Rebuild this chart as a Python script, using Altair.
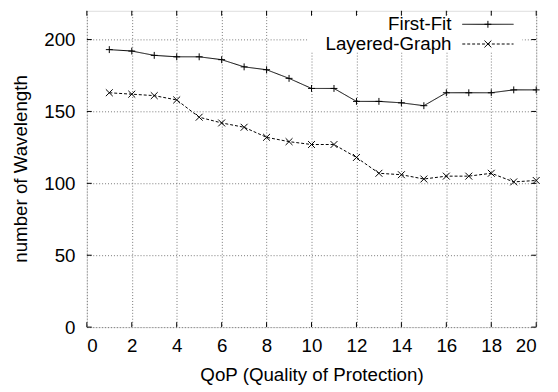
import altair as alt
import pandas as pd

qop = list(range(1, 21))
first_fit = [193, 192, 189, 188, 188, 186, 181, 179, 173, 166, 166, 157, 157, 156, 154, 163, 163, 163, 165, 165]
layered = [163, 162, 161, 158, 146, 142, 139, 132, 129, 127, 127, 118, 107, 106, 103, 105, 105, 107, 101, 102]
series_names = ["First-Fit", "Layered-Graph"]
x_ticks = list(range(0, 21, 2))
y_ticks = [0, 50, 100, 150, 200]

W, H = 456, 321
FONT = "Liberation Sans"
FS = 19

df = pd.DataFrame({
    "qop": qop * 2,
    "val": first_fit + layered,
    "series": [series_names[0]] * len(qop) + [series_names[1]] * len(qop),
})

xs = alt.Scale(domain=[0, 20], nice=False, zero=False)
ys = alt.Scale(domain=[0, 220], nice=False, zero=False)

plus = "M-1,0L1,0M0,-1L0,1"
cross = "M-1,-1L1,1M-1,1L1,-1"

base = alt.Chart(df)

common = dict(grid=True, gridDash=[1, 2], gridColor="#777", gridWidth=1, domain=False, ticks=False,
              labelFont=FONT, labelFontSize=FS, labelColor="black",
              titleFont=FONT, titleFontSize=FS, titleColor="black", titleFontWeight="normal")
xaxis = alt.Axis(values=x_ticks, labelPadding=10, title="QoP (Quality of Protection)",
                 titleX=W / 2, titleY=48, titleBaseline="middle", **common)
yaxis = alt.Axis(values=y_ticks, labelPadding=12, title="number of Wavelength",
                 titleX=-67, titleY=160, titleAngle=-90, titleBaseline="middle", titleAlign="center", **common)

# white legend box that hides gridlines
box = alt.Chart(pd.DataFrame({"k": [0]})).mark_rect(color="white").encode(
    x=alt.value(224), x2=alt.value(442), y=alt.value(4), y2=alt.value(42)
)

dash_scale = alt.Scale(domain=series_names, range=[[1, 0], [3, 2]])
shape_scale = alt.Scale(domain=series_names, range=[plus, cross])

lines = base.mark_line(color="black", strokeWidth=1).encode(
    x=alt.X("qop:Q", scale=xs, axis=xaxis),
    y=alt.Y("val:Q", scale=ys, axis=yaxis),
    strokeDash=alt.StrokeDash("series:N", scale=dash_scale, legend=None),
    detail="series:N",
)

pts = base.mark_point(filled=False, color="black", strokeWidth=1, size=49, opacity=1).encode(
    x=alt.X("qop:Q", scale=xs),
    y=alt.Y("val:Q", scale=ys),
    shape=alt.Shape("series:N", scale=shape_scale, legend=None),
)

# inner ticks (gnuplot style)
xt = pd.DataFrame({"t": x_ticks})
yt = pd.DataFrame({"t": y_ticks})
tick_bottom = alt.Chart(xt).mark_rule(color="black").encode(
    x=alt.X("t:Q", scale=xs), y=alt.value(H), y2=alt.value(H - 5))
tick_top = alt.Chart(xt).mark_rule(color="black").encode(
    x=alt.X("t:Q", scale=xs), y=alt.value(0), y2=alt.value(5))
tick_left = alt.Chart(yt).mark_rule(color="black").encode(
    y=alt.Y("t:Q", scale=ys), x=alt.value(0), x2=alt.value(5))
tick_right = alt.Chart(yt).mark_rule(color="black").encode(
    y=alt.Y("t:Q", scale=ys), x=alt.value(W), x2=alt.value(W - 5))

# legend
leg = pd.DataFrame({"series": series_names, "row": [0, 1]})
legbase = alt.Chart(leg).transform_calculate(ly="13.7 + 20*datum.row")
leg_text = legbase.mark_text(align="right", baseline="middle", font=FONT, fontSize=FS, color="black").encode(
    x=alt.value(370), y=alt.Y("ly:Q", scale=None), text="series:N")
leg_line = legbase.mark_rule(color="black", strokeWidth=1).encode(
    x=alt.value(381), x2=alt.value(433), y=alt.Y("ly:Q", scale=None),
    strokeDash=alt.StrokeDash("series:N", scale=dash_scale, legend=None))
leg_pt = legbase.mark_point(filled=False, color="black", strokeWidth=1, size=49, opacity=1).encode(
    x=alt.value(407), y=alt.Y("ly:Q", scale=None),
    shape=alt.Shape("series:N", scale=shape_scale, legend=None))

chart = alt.layer(
    lines, box, pts, tick_bottom, tick_top, tick_left, tick_right, leg_text, leg_line, leg_pt
).properties(
    width=W, height=H,
    autosize=alt.AutoSizeParams(type="none"),
    padding={"left": 80, "top": 0, "right": 14, "bottom": 63},
).configure_view(stroke="black", strokeWidth=1).configure(background="white")

chart.save("out.html", embed_options={"renderer": "svg", "actions": False})
